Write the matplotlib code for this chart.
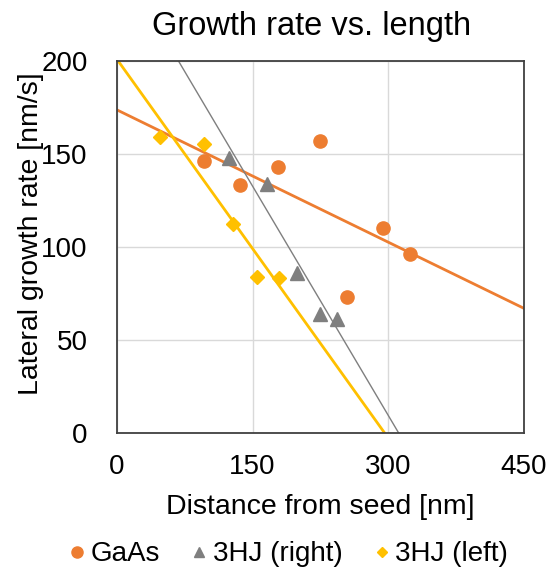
import numpy as np
import matplotlib
matplotlib.use('Agg')
import matplotlib.pyplot as plt
from matplotlib.lines import Line2D

# --- dati ---
gaas_x = [96, 136, 178, 225, 254, 294, 324]
gaas_y = [146, 133, 143, 157, 73, 110, 96]

right_x = [124, 166, 199, 225, 243]
right_y = [148, 134, 86, 64, 61]

left_x = [48, 96, 128, 155, 179]
left_y = [159, 155, 112, 84, 83]

x_ticks = [0, 150, 300, 450]
y_ticks = [0, 50, 100, 150, 200]

ORANGE = "#ED7D31"
GREY = "#7F7F7F"
GOLD = "#FFC000"

plt.rcParams['font.family'] = ['Liberation Sans', 'DejaVu Sans']

fig = plt.figure(figsize=(5.51, 5.68), dpi=100)
ax = fig.add_axes([0.212, 0.238, 0.739, 0.655])

xx = np.array([0, 450])
series = [
    (gaas_x, gaas_y, ORANGE, 'o', 9.5, 2.0, 'GaAs'),
    (right_x, right_y, GREY, '^', 9.5, 1.0, '3HJ (right)'),
    (left_x, left_y, GOLD, 'D', 7.0, 2.0, '3HJ (left)'),
]
for xs, ys, col, mk, ms, lw, lab in series:
    # linea di tendenza lineare (come Excel)
    k, q = np.polyfit(xs, ys, 1)
    ax.plot(xx, k * xx + q, color=col, lw=lw, zorder=2)
    ax.plot(xs, ys, linestyle='none', marker=mk, ms=ms, color=col,
            markeredgecolor=col, zorder=3)

ax.set_xlim(0, 450)
ax.set_ylim(0, 200)
ax.set_xticks(x_ticks)
ax.set_yticks(y_ticks)
ax.tick_params(axis='x', length=0, labelsize=20, pad=15)
ax.tick_params(axis='y', length=0, labelsize=20, pad=21)
ax.grid(True, color='#D9D9D9', lw=1)
ax.set_axisbelow(True)
for s in ax.spines.values():
    s.set_edgecolor('#404040')
    s.set_linewidth(1.3)

ax.set_xlabel('Distance from seed [nm]', fontsize=20.5, va='center')
ax.xaxis.set_label_coords(0.5, -0.2)
ax.set_ylabel('Lateral growth rate [nm/s]', fontsize=20.5, va='center')
ax.yaxis.set_label_coords(-0.21, 0.536)

fig.text(312 / 551, 1 - 26 / 568, 'Growth rate vs. length', fontsize=23.5,
         ha='center', va='center')

handles = [
    Line2D([], [], ls='none', marker='o', ms=8, color=ORANGE, label='GaAs'),
    Line2D([], [], ls='none', marker='^', ms=7, color=GREY, label='3HJ (right)'),
    Line2D([], [], ls='none', marker='D', ms=5, color=GOLD, label='3HJ (left)'),
]
fig.legend(handles=handles, loc='center', bbox_to_anchor=(0.521, 0.024),
           ncol=3, frameon=False, fontsize=20, handletextpad=0.1,
           columnspacing=1.0, handlelength=0.8, borderpad=0)

fig.savefig('out.png', dpi=100, facecolor='white')
